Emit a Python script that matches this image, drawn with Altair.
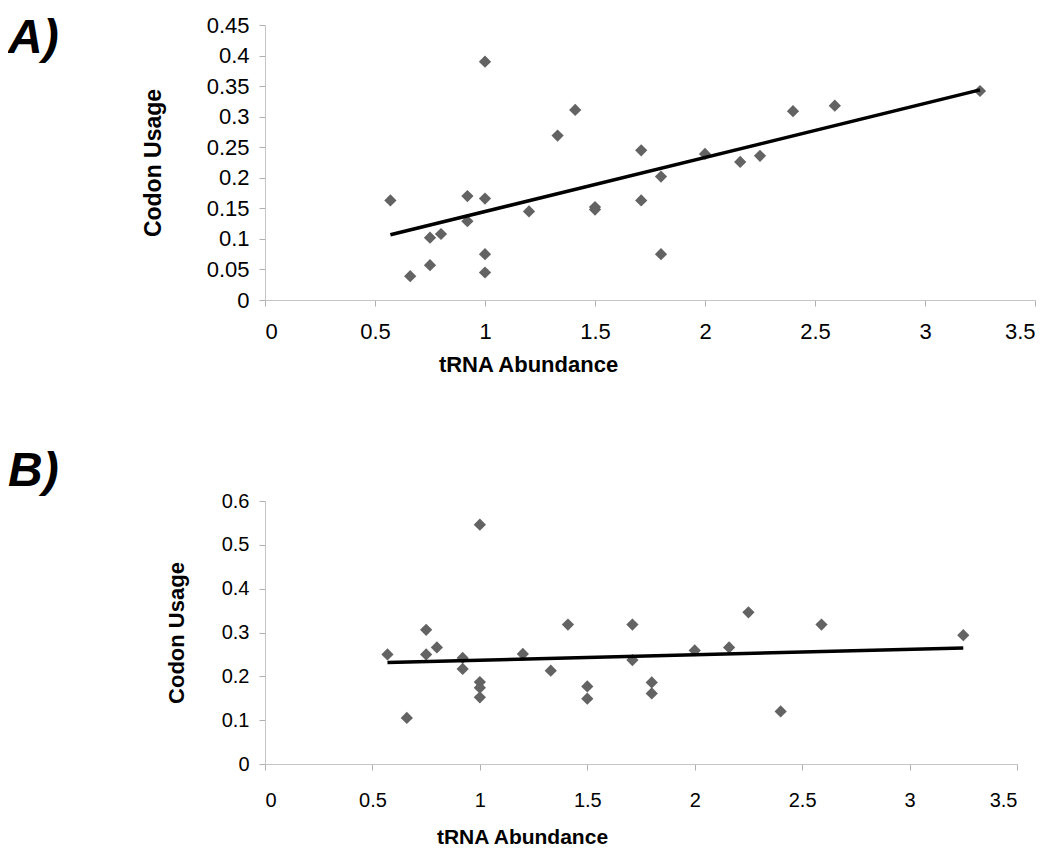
import altair as alt
import pandas as pd

# Panel A data
trna_a = [0.57, 0.66, 0.75, 0.75, 0.80, 0.92, 0.92, 1.0, 1.0, 1.0, 1.0, 1.2, 1.33,
          1.41, 1.5, 1.5, 1.71, 1.71, 1.8, 1.8, 2.0, 2.16, 2.25, 2.4, 2.59, 3.25]
codon_a = [0.163, 0.039, 0.102, 0.057, 0.108, 0.170, 0.129, 0.390, 0.166, 0.075, 0.045,
           0.145, 0.269, 0.311, 0.148, 0.152, 0.245, 0.163, 0.202, 0.075, 0.239, 0.226,
           0.236, 0.309, 0.318, 0.342]

# Panel B data
trna_b = [0.57, 0.66, 0.75, 0.75, 0.80, 0.92, 0.92, 1.0, 1.0, 1.0, 1.0, 1.2, 1.33,
          1.41, 1.5, 1.5, 1.71, 1.71, 1.8, 1.8, 2.0, 2.16, 2.25, 2.4, 2.59, 3.25]
codon_b = [0.250, 0.105, 0.306, 0.250, 0.266, 0.242, 0.217, 0.546, 0.187, 0.174, 0.152,
           0.251, 0.213, 0.318, 0.177, 0.149, 0.318, 0.237, 0.186, 0.161, 0.259, 0.266,
           0.346, 0.120, 0.318, 0.294]

x_ticks = [0.0, 0.5, 1.0, 1.5, 2.0, 2.5, 3.0, 3.5]
y_ticks_a = [0.0, 0.05, 0.1, 0.15, 0.2, 0.25, 0.3, 0.35, 0.4, 0.45]
y_ticks_b = [0.0, 0.1, 0.2, 0.3, 0.4, 0.5, 0.6]

FONT = "Liberation Sans"


def panel(xv, yv, label, yticks, yfmt, width, height, fs, tfs, label_y,
          xlab_pad, xtitle_pad, xtitle_x, ytitle_pad):
    df = pd.DataFrame({"tRNA": xv, "codon": yv})
    ymax = yticks[-1]
    x_enc = alt.X(
        "tRNA:Q",
        scale=alt.Scale(domain=[0, 3.5], nice=False, zero=True),
        axis=alt.Axis(values=x_ticks, format=".1~f", title="tRNA Abundance",
                      labelFontSize=fs, titleFontSize=tfs, labelPadding=xlab_pad,
                      titlePadding=xtitle_pad, titleX=xtitle_x, titleAlign="center",
                      labelOverlap=False),
    )
    y_enc = alt.Y(
        "codon:Q",
        scale=alt.Scale(domain=[0, ymax], nice=False, zero=True),
        axis=alt.Axis(values=yticks, format=yfmt, title="Codon Usage",
                      labelFontSize=fs, titleFontSize=tfs + 1, labelPadding=10,
                      titlePadding=ytitle_pad, labelOverlap=False),
    )
    pts = alt.Chart(df).mark_point(
        shape="diamond", filled=True, size=150, color="#636363", opacity=1
    ).encode(x=x_enc, y=y_enc)
    trend = alt.Chart(df).transform_regression("tRNA", "codon").mark_line(
        color="black", strokeWidth=3.5
    ).encode(x=x_enc, y=y_enc)
    tag = alt.Chart(pd.DataFrame({"label": [label]})).mark_text(
        font=FONT, fontSize=48, fontWeight="bold", fontStyle="italic",
        align="left", baseline="top", color="black"
    ).encode(text="label:N", x=alt.value(-257), y=alt.value(label_y))
    return alt.layer(pts, trend, tag).properties(width=width, height=height)


chart_a = panel(trna_a, codon_a, "A)", y_ticks_a, ".2~f", 770, 275, 22, 22, -10,
                15, 12, 263, 41)
chart_b = panel(trna_b, codon_b, "B)", y_ticks_b, ".1~f", 752, 263, 20, 21, -53,
                20, 16, 257, 33)

chart = alt.vconcat(chart_a, chart_b, spacing=73).properties(
    padding={"top": 6, "left": 0, "right": 0, "bottom": 0}
).configure_view(
    stroke=None
).configure_axis(
    grid=False,
    domainColor="#c4c4c4",
    tickColor="#b0b0b0",
    tickSize=6,
    labelColor="black",
    titleColor="black",
    labelFont=FONT,
    titleFont=FONT,
    titleFontWeight="bold",
)

chart.save("out.html", embed_options={"renderer": "svg", "actions": False})
